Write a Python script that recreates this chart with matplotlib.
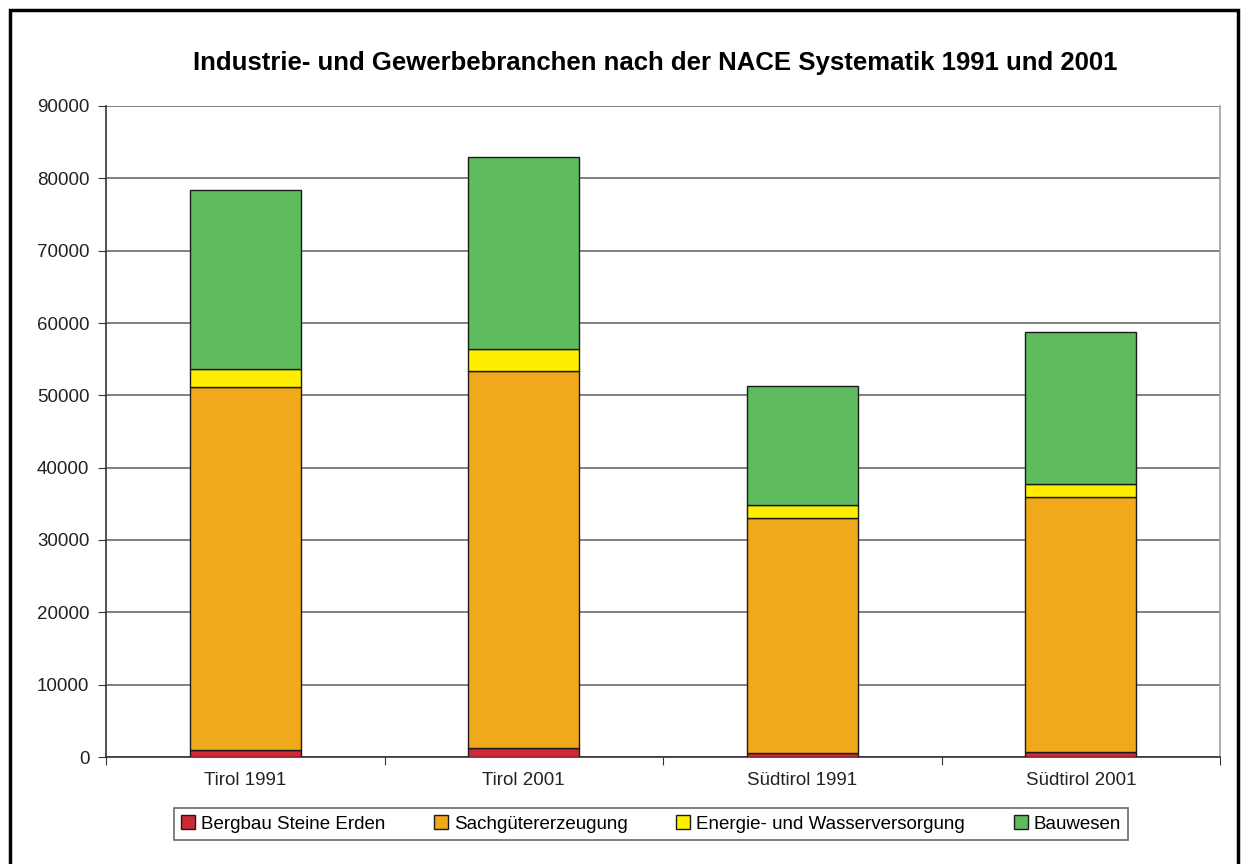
import matplotlib.pyplot as plt
import matplotlib.patches as mpatches
import numpy as np

plt.rcParams['font.family'] = ['Liberation Sans', 'DejaVu Sans']

regions = ['Tirol 1991', 'Tirol 2001', 'Südtirol 1991', 'Südtirol 2001']
branches = ['Bergbau Steine Erden', 'Sachgütererzeugung',
            'Energie- und Wasserversorgung', 'Bauwesen']
bergbau = [1000, 1250, 500, 750]
sachgueter = [50150, 52100, 32600, 35250]
energie = [2500, 3000, 1800, 1700]
bauwesen = [24750, 26550, 16350, 21100]
colors = ['#CC2A36', '#EFA91B', '#FFEE00', '#5EBB5E']

fig = plt.figure(figsize=(12.44, 8.64), dpi=100)
ax = fig.add_axes([106 / 1244, 1 - 757 / 864, (1220 - 106) / 1244, (757 - 106) / 864])

# outer frame around the whole chart
fig.patches.append(mpatches.Rectangle((10 / 1244, -0.05), 1228 / 1244, 1 - 10 / 864 + 0.05,
                                      transform=fig.transFigure, fill=False,
                                      edgecolor='black', linewidth=2.5))

x = np.arange(len(regions))
bottom = np.zeros(len(regions))
for name, vals, c in zip(branches, [bergbau, sachgueter, energie, bauwesen], colors):
    ax.bar(x, vals, width=0.4, bottom=bottom, color=c, edgecolor='#1a1a1a',
           linewidth=1.0, label=name, zorder=3)
    bottom += np.array(vals)

ax.set_ylim(0, 90000)
ax.set_xlim(-0.5, 3.5)
ax.set_yticks(np.arange(0, 90001, 10000))
ax.yaxis.grid(True, color='#808080', linewidth=1.4, zorder=0)
ax.tick_params(axis='y', direction='out', length=6, color='#333333',
               labelsize=13.5, labelcolor='#222222', pad=6)

ax.set_xticks([-0.5, 0.5, 1.5, 2.5, 3.5])
ax.set_xticklabels([])
ax.tick_params(axis='x', which='major', direction='out', length=6, color='#333333')
ax.set_xticks(x, minor=True)
ax.set_xticklabels(regions, minor=True)
ax.tick_params(axis='x', which='minor', length=0, labelsize=13.5,
               labelcolor='#222222', pad=11)

ax.spines['top'].set_visible(False)
ax.spines['right'].set_color('#A0A0A0')
ax.spines['left'].set_color('#333333')
ax.spines['bottom'].set_color('#333333')
for s in ax.spines.values():
    s.set_linewidth(1.2)

fig.text(655 / 1244, 1 - 63 / 864,
         'Industrie- und Gewerbebranchen nach der NACE Systematik 1991 und 2001',
         ha='center', va='center', fontsize=18.5, fontweight='bold')

leg = fig.legend(loc='center', bbox_to_anchor=(651 / 1244, 1 - 824 / 864), ncol=4,
                 fontsize=13.5, frameon=True, fancybox=False, handlelength=0.75,
                 handleheight=0.75, handletextpad=0.3, columnspacing=2.6,
                 borderpad=0.4)
leg.get_frame().set_edgecolor('#444444')
leg.get_frame().set_linewidth(1.2)

fig.savefig('out.png', dpi=100)
